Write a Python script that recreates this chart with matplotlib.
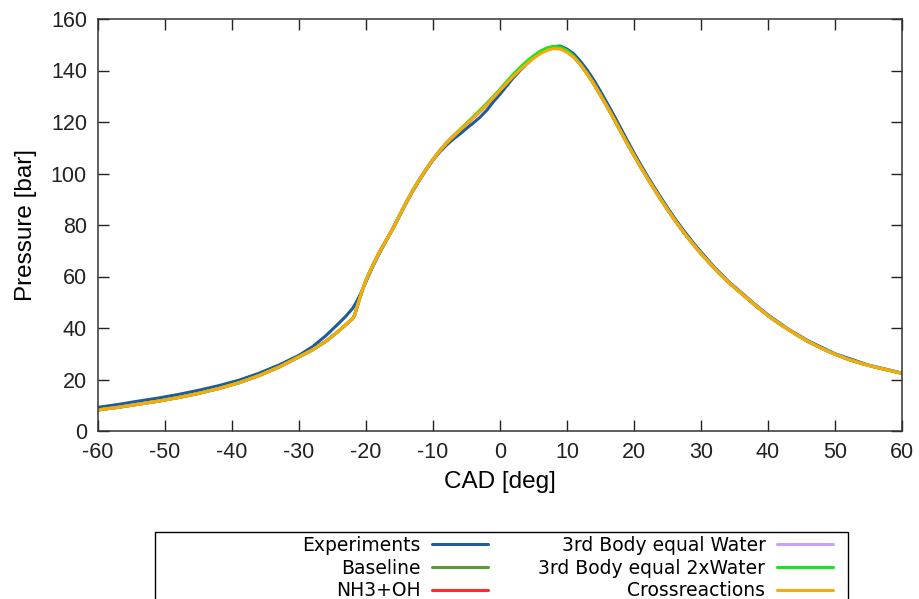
import matplotlib
matplotlib.use("Agg")
import matplotlib.pyplot as plt
from matplotlib.patches import Rectangle

plt.rcParams["axes.unicode_minus"] = False

# ---------------- data ----------------
cad_exp = [-60, -57, -54, -51, -48, -45, -42, -39, -36, -33,
           -30, -28, -26, -25, -24, -23, -22,
           -21.5, -21, -20.5, -20,
           -19, -18, -17, -16, -15, -14, -13, -12, -11, -10, -9, -8, -7, -6, -5, -4, -3, -2, -1,
           0, 1, 2, 3, 4, 5, 6, 7, 8, 9, 10, 11, 12, 13, 14, 15, 16, 17, 18, 19, 20,
           21, 22, 23, 24, 25, 26, 27, 28, 29, 30,
           32, 34, 36, 38, 40, 43, 46, 50, 55, 60]
p_exp = [9.2, 10.3, 11.6, 12.8, 14.2, 15.8, 17.6, 19.7, 22.4, 25.6,
         29.4, 32.7, 37.0, 39.5, 42.0, 44.6, 47.6,
         49.8, 52.3, 55.0, 58.0,
         63.8, 69.0, 73.8, 78.5, 83.5, 88.5, 93.2, 97.5, 101.5, 105.2, 108.3, 111.0, 113.3,
         115.3, 117.5, 119.6, 121.8, 124.5, 127.8,
         130.8, 134.0, 137.2, 140.0, 142.6, 144.9, 146.9, 148.4, 149.3, 149.5, 148.3,
         146.5, 143.6, 140.2, 136.3, 131.9, 127.3, 122.6, 117.7, 112.8, 108.0,
         103.4, 99.0, 94.8, 90.7, 86.7, 82.9, 79.3, 75.9, 72.6, 69.5,
         63.6, 58.3, 53.8, 49.3, 45.1, 39.6, 35.0, 30.0, 25.6, 22.5]

cad_sim = [-60, -57, -54, -51, -48, -45, -42, -39, -36, -33,
           -30, -28, -26, -24, -23, -22,
           -21.7, -21.3, -21, -20.5, -20, -19.5, -19,
           -18, -17, -16, -15, -14, -13, -12, -11, -10, -9, -8, -7, -6, -5, -4, -3, -2, -1,
           0, 1, 2, 3, 4, 5, 6, 7, 8, 9, 10, 11, 12, 13, 14, 15, 16, 17, 18, 19, 20,
           21, 22, 23, 24, 25, 26, 27, 28, 29, 30, 31, 32, 33, 34, 35, 36, 37, 38, 39, 40,
           42, 44, 46, 48, 50, 52, 54, 56, 58, 60]

p_baseline = [8.2, 9.2, 10.4, 11.6, 13.0, 14.6, 16.5, 18.7, 21.5, 24.8,
              28.8, 31.5, 34.8, 39.0, 41.3, 43.6,
              45.0, 48.5, 51.0, 55.0, 58.5, 61.5, 64.3,
              69.5, 74.0, 78.6, 83.7, 88.8, 93.5, 97.8, 101.8, 105.5, 108.8, 111.8, 114.4,
              116.8, 119.2, 121.6, 124.1, 126.7, 129.5,
              132.4, 135.3, 138.1, 140.7, 143.0, 145.1, 146.9, 148.3, 149.0, 148.8, 147.5,
              145.4, 142.3, 138.8, 134.8, 130.4, 125.9, 121.2, 116.4, 111.6, 107.0,
              102.5, 98.2, 94.0, 89.9, 86.0, 82.2, 78.6, 75.2, 72.0, 68.9,
              66.0, 63.2, 60.5, 58.0, 55.7, 53.5, 51.3, 49.0, 46.9, 44.8,
              41.1, 37.8, 34.7, 32.1, 29.8, 27.8, 26.2, 24.8, 23.6, 22.4]
p_nh3oh = [8.2, 9.2, 10.4, 11.6, 13.0, 14.6, 16.5, 18.7, 21.5, 24.8,
           28.8, 31.5, 34.8, 39.0, 41.3, 43.6,
           45.0, 48.5, 51.0, 55.0, 58.5, 61.5, 64.3,
           69.5, 74.0, 78.6, 83.7, 88.8, 93.5, 97.8, 101.8, 105.5, 108.8, 111.8, 114.4,
           116.8, 119.2, 121.6, 124.1, 126.7, 129.5,
           132.4, 135.3, 138.1, 140.7, 143.0, 145.0, 146.8, 148.2, 148.9, 148.7, 147.4,
           145.3, 142.3, 138.8, 134.8, 130.4, 125.9, 121.2, 116.4, 111.6, 107.0,
           102.5, 98.2, 94.0, 89.9, 86.0, 82.2, 78.6, 75.2, 72.0, 68.9,
           66.0, 63.2, 60.5, 58.0, 55.7, 53.5, 51.3, 49.0, 46.9, 44.8,
           41.1, 37.8, 34.7, 32.1, 29.8, 27.8, 26.2, 24.8, 23.6, 22.4]
p_water = [8.2, 9.2, 10.4, 11.6, 13.0, 14.6, 16.5, 18.7, 21.5, 24.8,
           28.8, 31.5, 34.8, 39.0, 41.3, 43.6,
           45.0, 48.5, 51.0, 55.0, 58.5, 61.5, 64.3,
           69.5, 74.0, 78.6, 83.7, 88.8, 93.5, 97.8, 101.8, 105.5, 108.8, 111.8, 114.4,
           116.8, 119.2, 121.6, 124.1, 126.7, 129.5,
           132.4, 135.3, 138.1, 140.7, 143.0, 145.1, 146.9, 148.3, 149.0, 148.8, 147.5,
           145.4, 142.3, 138.8, 134.8, 130.4, 125.9, 121.2, 116.4, 111.6, 107.0,
           102.5, 98.2, 94.0, 89.9, 86.0, 82.2, 78.6, 75.2, 72.0, 68.9,
           66.0, 63.2, 60.5, 58.0, 55.7, 53.5, 51.3, 49.0, 46.9, 44.8,
           41.1, 37.8, 34.7, 32.1, 29.8, 27.8, 26.2, 24.8, 23.6, 22.4]
p_2xwater = [8.2, 9.2, 10.4, 11.6, 13.0, 14.6, 16.5, 18.7, 21.5, 24.8,
             28.8, 31.5, 34.8, 39.0, 41.3, 43.6,
             45.0, 48.5, 51.0, 55.0, 58.5, 61.5, 64.3,
             69.5, 74.0, 78.6, 83.7, 88.8, 93.5, 97.8, 101.8, 105.5, 108.8, 111.8, 114.5,
             117.0, 119.5, 122.0, 124.6, 127.2, 129.9,
             132.7, 135.7, 138.6, 141.2, 143.6, 145.7, 147.5, 148.8, 149.4, 149.1, 147.8,
             145.6, 142.4, 138.8, 134.8, 130.4, 125.9, 121.2, 116.4, 111.6, 107.0,
             102.5, 98.2, 94.0, 89.9, 86.0, 82.2, 78.6, 75.2, 72.0, 68.9,
             66.0, 63.2, 60.5, 58.0, 55.7, 53.5, 51.3, 49.0, 46.9, 44.8,
             41.1, 37.8, 34.7, 32.1, 29.8, 27.8, 26.2, 24.8, 23.6, 22.4]
p_cross = [8.2, 9.2, 10.4, 11.6, 13.0, 14.6, 16.5, 18.7, 21.5, 24.8,
           28.8, 31.5, 34.8, 39.0, 41.3, 43.6,
           45.0, 48.5, 51.0, 55.0, 58.5, 61.5, 64.3,
           69.5, 74.0, 78.6, 83.7, 88.8, 93.5, 97.8, 101.8, 105.5, 108.8, 111.8, 114.4,
           116.8, 119.2, 121.6, 124.1, 126.7, 129.5,
           132.3, 135.1, 137.8, 140.3, 142.6, 144.7, 146.5, 147.8, 148.5, 148.3, 147.1,
           145.1, 142.3, 138.8, 134.8, 130.4, 125.9, 121.2, 116.4, 111.6, 107.0,
           102.5, 98.2, 94.0, 89.9, 86.0, 82.2, 78.6, 75.2, 72.0, 68.9,
           66.0, 63.2, 60.5, 58.0, 55.7, 53.5, 51.3, 49.0, 46.9, 44.8,
           41.1, 37.8, 34.7, 32.1, 29.8, 27.8, 26.2, 24.8, 23.6, 22.4]

labels = ["Experiments", "Baseline", "NH3+OH",
          "3rd Body equal Water", "3rd Body equal 2xWater", "Crossreactions"]
colors = ["#1f5c99", "#5c9b32", "#ff2a2a", "#c9a4f5", "#19e619", "#f7aa0a"]

xticks = list(range(-60, 61, 10))
yticks = list(range(0, 161, 20))

# ---------------- figure ----------------
W, H = 919, 599
fig = plt.figure(figsize=(W / 100, H / 100), dpi=100)
ax = fig.add_axes([98 / W, 1 - 431 / H, (902 - 98) / W, (431 - 19) / H])

series = [(cad_exp, p_exp), (cad_sim, p_baseline), (cad_sim, p_nh3oh),
          (cad_sim, p_water), (cad_sim, p_2xwater), (cad_sim, p_cross)]
handles = []
for (x, y), lab, col in zip(series, labels, colors):
    ln, = ax.plot(x, y, color=col, lw=2.2, label=lab,
                  solid_capstyle="round", solid_joinstyle="round")
    handles.append(ln)

ax.set_xlim(-60, 60)
ax.set_ylim(0, 160)
ax.set_xticks(xticks)
ax.set_yticks(yticks)
tick_font = "Liberation Sans"
ax.tick_params(direction="in", length=8, width=1, top=True, right=True,
               labelsize=15.5, pad=8, colors="#222222")
for lab in ax.get_xticklabels() + ax.get_yticklabels():
    lab.set_fontfamily(tick_font)
for sp in ax.spines.values():
    sp.set_linewidth(1.1)
    sp.set_color("#333333")
ax.set_xlabel("CAD [deg]", fontsize=17.5, family=tick_font, labelpad=6)
ax.set_ylabel("Pressure [bar]", fontsize=17.5, family=tick_font, labelpad=10)

# legend frame (bottom edge falls outside the image)
fig.patches.append(Rectangle((155 / W, -0.05), (848 - 155) / W, (1 - 532 / H) + 0.05,
                             transform=fig.transFigure, fill=False,
                             edgecolor="black", lw=1.0))

leg_kw = dict(loc="upper right", frameon=False, markerfirst=False,
              prop={"family": "DejaVu Sans", "size": 13.5},
              handlelength=3.0, handletextpad=0.6, labelspacing=0.2,
              borderpad=0, borderaxespad=0)
fig.legend(handles[:3], labels[:3], bbox_to_anchor=(488 / W, 1 - 536 / H), **leg_kw)
fig.legend(handles[3:], labels[3:], bbox_to_anchor=(833 / W, 1 - 536 / H), **leg_kw)

fig.savefig("out.png", dpi=100)
